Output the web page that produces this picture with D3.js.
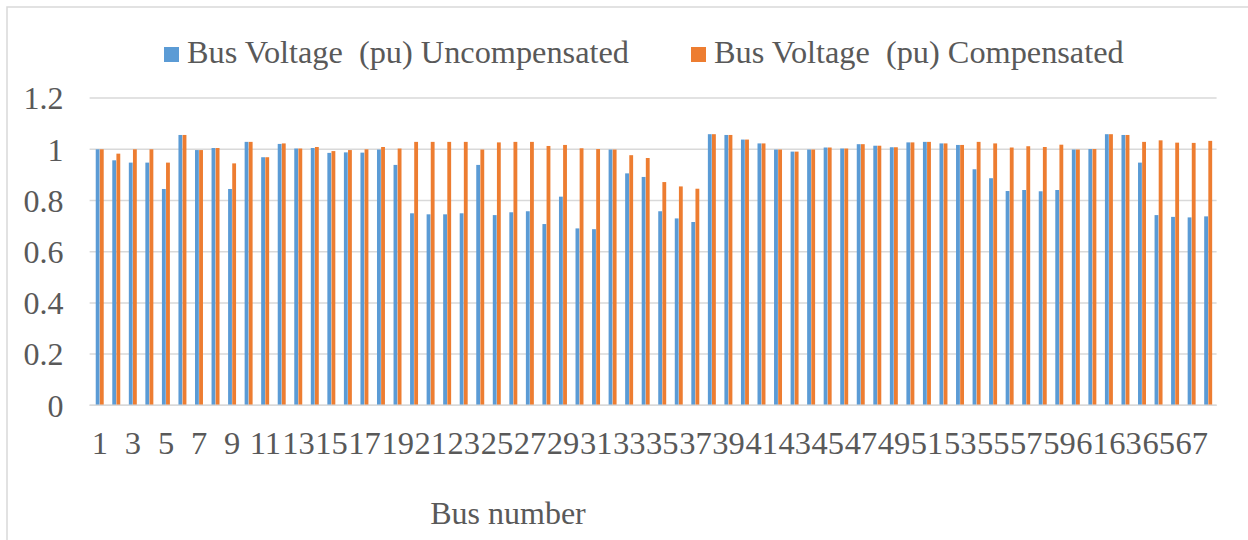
<!DOCTYPE html>
<html>
<head>
<meta charset="utf-8">
<script src="https://cdn.jsdelivr.net/npm/d3@7"></script>
<style>
  body { margin: 0; background: #fff; }
  text { font-family: "Liberation Serif", "Times New Roman", serif; fill: #595959; }
</style>
</head>
<body>
<script>
// bus numbers 1..68
var buses = [1,2,3,4,5,6,7,8,9,10,11,12,13,14,15,16,17,18,19,20,21,22,23,24,25,26,27,28,29,30,31,32,33,34,
             35,36,37,38,39,40,41,42,43,44,45,46,47,48,49,50,51,52,53,54,55,56,57,58,59,60,61,62,63,64,65,66,67,68];

var uncompensated = [1.000,0.957,0.948,0.948,0.845,1.056,0.997,1.005,0.845,1.029,0.969,1.021,1.003,1.005,0.986,0.988,0.987,
                     0.999,0.939,0.750,0.746,0.746,0.750,0.939,0.743,0.754,0.758,0.708,0.815,0.691,0.688,0.999,0.906,0.892,
                     0.758,0.730,0.716,1.059,1.056,1.038,1.023,0.999,0.991,0.999,1.007,1.003,1.020,1.014,1.008,1.027,1.029,
                     1.023,1.017,0.922,0.887,0.837,0.841,0.836,0.841,0.999,1.001,1.059,1.056,0.948,0.743,0.736,0.734,0.738];

var compensated = [1.000,0.983,1.000,1.000,0.948,1.056,0.997,1.005,0.945,1.029,0.969,1.023,1.003,1.009,0.993,0.997,1.000,
                   1.009,1.003,1.029,1.029,1.029,1.029,0.999,1.027,1.029,1.029,1.013,1.017,1.004,1.001,0.999,0.977,0.966,
                   0.872,0.855,0.846,1.059,1.056,1.038,1.023,0.999,0.991,0.999,1.007,1.003,1.020,1.014,1.008,1.027,1.029,
                   1.023,1.017,1.029,1.023,1.007,1.012,1.009,1.018,0.999,1.001,1.059,1.056,1.029,1.035,1.026,1.025,1.033];

var yTicks = [0, 0.2, 0.4, 0.6, 0.8, 1.0, 1.2];
var seriesNames = ["Bus Voltage  (pu) Uncompensated", "Bus Voltage  (pu) Compensated"];
var seriesColors = ["#5B9BD5", "#ED7D31"];

function draw () {

    var width = 1248,
        height = 540,
        left = 91.6, right = 1216.6,
        top = 98.1, bottom = 405.3;

    var svg = d3.select("body")
        .append("svg")
        .attr("width", width)
        .attr("height", height);

    // chart frame (only top / left edges are in view)
    svg.append("rect")
        .attr("x", 7).attr("y", 7)
        .attr("width", 1300).attr("height", 600)
        .attr("fill", "none")
        .attr("stroke", "#D9D9D9")
        .attr("stroke-width", 1.5);

    var x = d3.scaleBand()
        .domain(buses)
        .range([left, right]);

    var y = d3.scaleLinear()
        .domain([0, 1.2])
        .range([bottom, top]);

    // gridlines
    svg.append("g")
        .selectAll("line")
        .data(yTicks)
        .enter()
        .append("line")
        .attr("x1", left - 2)
        .attr("x2", right)
        .attr("y1", function(d){ return y(d); })
        .attr("y2", function(d){ return y(d); })
        .attr("stroke", "#D9D9D9")
        .attr("stroke-width", 1.5);

    // y axis labels
    var yAxis = svg.append("g")
        .attr("transform", "translate(" + (left - 28) + ",0)")
        .call(d3.axisLeft(y).tickValues(yTicks).tickFormat(d3.format("~g")).tickSize(0).tickPadding(0));
    yAxis.select(".domain").remove();
    yAxis.selectAll("text")
        .attr("font-size", "32px")
        .attr("font-family", "Liberation Serif, Times New Roman, serif")
        .attr("fill", "#595959")
        .attr("dy", "0.34em");

    // bars
    var barW = x.bandwidth() * 0.25;
    var groups = [uncompensated, compensated];

    groups.forEach(function(values, s){
        svg.append("g")
            .selectAll("rect")
            .data(values)
            .enter()
            .append("rect")
            .attr("x", function(d, i){ return x(buses[i]) + x.bandwidth() / 2 - barW + s * barW; })
            .attr("y", function(d){ return y(d); })
            .attr("width", barW - 0.3)
            .attr("height", function(d){ return bottom - y(d); })
            .attr("fill", seriesColors[s]);
    });

    // redraw baseline over bars
    svg.append("line")
        .attr("x1", left - 2).attr("x2", right)
        .attr("y1", bottom).attr("y2", bottom)
        .attr("stroke", "#D9D9D9")
        .attr("stroke-width", 1.5);

    // x axis labels (every other bus)
    var xAxis = svg.append("g")
        .attr("transform", "translate(0," + bottom + ")")
        .call(d3.axisBottom(x)
            .tickSize(0)
            .tickPadding(0)
            .tickFormat(function(d){ return d % 2 == 1 ? d : ""; }));
    xAxis.select(".domain").remove();
    xAxis.selectAll("text")
        .attr("font-size", "32.5px")
        .attr("font-family", "Liberation Serif, Times New Roman, serif")
        .attr("fill", "#595959")
        .attr("dy", null)
        .attr("y", 49);

    // axis title
    svg.append("text")
        .attr("x", 508)
        .attr("y", 524)
        .attr("text-anchor", "middle")
        .attr("font-size", "32px")
        .text("Bus number");

    // legend
    var legendX = [164, 691];
    var legend = svg.append("g")
        .selectAll("g")
        .data(seriesNames)
        .enter()
        .append("g")
        .attr("transform", function(d, i){ return "translate(" + legendX[i] + ",0)"; });

    legend.append("rect")
        .attr("x", 0).attr("y", 47)
        .attr("width", 15).attr("height", 15)
        .attr("fill", function(d, i){ return seriesColors[i]; });

    legend.append("text")
        .attr("x", 23)
        .attr("y", 63)
        .attr("font-size", "32.3px")
        .attr("xml:space", "preserve")
        .style("white-space", "pre")
        .text(function(d){ return d; });
}

window.onload = draw;
</script>
</body>
</html>
